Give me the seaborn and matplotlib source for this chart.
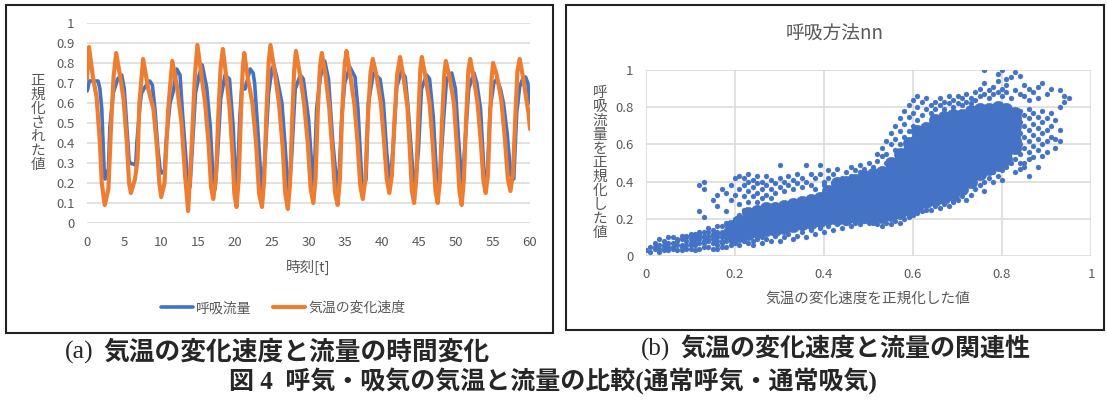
import matplotlib
matplotlib.use("Agg")
import matplotlib.pyplot as plt
from matplotlib.patches import Rectangle
import seaborn as sns

# ---- values ----
# (a) time series: breathing flow (blue) and rate of air-temperature change (orange)
flow_t = [0.0, 0.1, 0.3, 1.5, 1.75, 2.0, 2.2, 2.35, 2.45, 2.65, 2.9, 3.1, 3.55, 4.15, 4.7, 5.05,
          5.4, 5.7, 5.85, 6.6, 6.75, 7.2, 7.4, 7.85, 8.5, 8.85, 9.2, 9.6, 9.9, 10.1, 10.5, 10.7,
          11.25, 11.7, 12.15, 12.6, 12.9, 13.4, 13.7, 13.95, 14.3, 14.7, 15.2, 15.6, 16.2, 16.7,
          17.1, 17.35, 17.7, 18.1, 18.7, 19.3, 19.8, 20.1, 20.3, 20.7, 20.95, 21.4, 22.1, 22.5,
          22.7, 23.2, 23.7, 24.1, 24.6, 25.05, 25.3, 25.7, 26.4, 26.8, 27.3, 27.7, 28.2, 28.9,
          29.3, 30.0, 30.7, 31.1, 31.6, 32.2, 32.7, 33.3, 34.0, 34.5, 34.9, 35.6, 36.3, 36.7,
          37.2, 37.5, 37.8, 38.1, 38.8, 39.7, 40.15, 40.6, 41.05, 41.5, 41.95, 42.6, 43.1, 43.5,
          44.0, 44.4, 44.9, 45.3, 46.0, 46.4, 46.9, 47.35, 47.7, 48.3, 48.7, 49.4, 49.9, 50.3,
          50.8, 51.2, 51.7, 52.4, 52.8, 53.3, 53.8, 54.2, 54.6, 55.1, 55.5, 56.0, 56.4, 56.9,
          57.4, 57.8, 58.2, 58.6, 59.0, 59.4, 59.7, 60.0]
flow_v = [0.66, 0.67, 0.71, 0.71, 0.67, 0.57, 0.37, 0.23, 0.22, 0.25, 0.27, 0.48, 0.65, 0.72, 0.74, 0.67,
          0.48, 0.31, 0.30, 0.29, 0.40, 0.60, 0.65, 0.68, 0.71, 0.69, 0.57, 0.37, 0.27, 0.25, 0.26, 0.40,
          0.60, 0.66, 0.77, 0.74, 0.57, 0.32, 0.17, 0.18, 0.40, 0.65, 0.74, 0.79, 0.68, 0.48,
          0.20, 0.17, 0.35, 0.62, 0.74, 0.72, 0.48, 0.22, 0.15, 0.53, 0.67, 0.67, 0.77, 0.75,
          0.70, 0.43, 0.14, 0.32, 0.65, 0.77, 0.79, 0.73, 0.60, 0.40, 0.13, 0.32, 0.67, 0.74,
          0.72, 0.52, 0.15, 0.57, 0.73, 0.81, 0.72, 0.40, 0.13, 0.52, 0.70, 0.78, 0.73, 0.57,
          0.22, 0.18, 0.22, 0.60, 0.75, 0.72, 0.60, 0.35, 0.19, 0.40, 0.68, 0.76, 0.73, 0.57,
          0.32, 0.16, 0.37, 0.67, 0.74, 0.72, 0.53, 0.23, 0.17, 0.52, 0.72, 0.75, 0.67, 0.43,
          0.18, 0.40, 0.67, 0.75, 0.70, 0.57, 0.23, 0.22, 0.57, 0.70, 0.72, 0.67, 0.60, 0.45,
          0.24, 0.22, 0.55, 0.68, 0.72, 0.73, 0.70, 0.60]

temp_t = [0.0, 0.27, 0.8, 1.3, 1.75, 2.0, 2.4, 2.9, 3.25, 3.6, 3.95,
          4.5, 4.95, 5.4, 5.7, 5.95, 6.5, 6.85, 7.1, 7.6,
          8.3, 9.0, 9.5, 9.8, 10.05, 10.5, 11.0, 11.55,
          12.2, 12.8, 13.3, 13.7, 14.2, 14.6, 14.95,
          15.5, 16.0, 16.5, 16.8, 17.1, 17.45, 17.8, 18.1, 18.4,
          18.9, 19.3, 19.7, 19.95, 20.25, 20.55, 20.85, 21.1, 21.3,
          21.8, 22.4, 22.9, 23.3, 23.7, 24.0, 24.3, 24.6, 24.85,
          25.4, 26.0, 26.5, 26.85, 27.2, 27.5, 27.8, 28.05, 28.3,
          28.85, 29.4, 29.9, 30.3, 30.65, 30.95, 31.25, 31.55, 31.8,
          32.3, 32.8, 33.25, 33.6, 33.95, 34.25, 34.55, 34.9, 35.15,
          35.65, 36.2, 36.65, 37.0, 37.35, 37.7, 38.0, 38.4, 38.7,
          39.2, 39.8, 40.25, 40.6, 40.95, 41.3, 41.65, 42.0, 42.4,
          42.9, 43.4, 43.75, 44.0, 44.3, 44.6, 44.9, 45.15, 45.35,
          45.85, 46.4, 46.85, 47.2, 47.5, 47.8, 48.1, 48.4, 48.6,
          49.1, 49.7, 50.1, 50.45, 50.75, 51.05, 51.35, 51.65, 51.9,
          52.4, 52.9, 53.35, 53.7, 54.0, 54.3, 54.55, 54.8, 55.0,
          55.5, 56.1, 56.6, 57.0, 57.35, 57.7, 58.0, 58.3, 58.6,
          59.1, 59.5, 59.8, 60.0]
temp_v = [0.72, 0.88, 0.73, 0.63, 0.40, 0.20, 0.09, 0.17, 0.48, 0.73, 0.85,
          0.73, 0.62, 0.40, 0.20, 0.15, 0.22, 0.32, 0.60, 0.82,
          0.67, 0.57, 0.37, 0.20, 0.13, 0.20, 0.57, 0.81,
          0.68, 0.50, 0.23, 0.06, 0.40, 0.73, 0.89,
          0.74, 0.60, 0.38, 0.18, 0.12, 0.22, 0.55, 0.78, 0.87,
          0.72, 0.58, 0.35, 0.15, 0.08, 0.22, 0.55, 0.78, 0.85,
          0.72, 0.60, 0.40, 0.15, 0.08, 0.22, 0.55, 0.80, 0.89,
          0.76, 0.60, 0.38, 0.15, 0.07, 0.20, 0.52, 0.76, 0.86,
          0.74, 0.60, 0.40, 0.17, 0.10, 0.22, 0.55, 0.78, 0.85,
          0.74, 0.58, 0.35, 0.15, 0.09, 0.22, 0.55, 0.79, 0.86,
          0.74, 0.60, 0.40, 0.19, 0.12, 0.22, 0.50, 0.75, 0.82,
          0.74, 0.60, 0.40, 0.22, 0.15, 0.24, 0.52, 0.74, 0.83,
          0.72, 0.58, 0.35, 0.16, 0.10, 0.22, 0.55, 0.77, 0.83,
          0.73, 0.60, 0.38, 0.16, 0.10, 0.22, 0.52, 0.75, 0.81,
          0.73, 0.60, 0.38, 0.16, 0.09, 0.22, 0.52, 0.76, 0.82,
          0.72, 0.60, 0.40, 0.21, 0.15, 0.24, 0.50, 0.72, 0.80,
          0.74, 0.62, 0.42, 0.22, 0.16, 0.25, 0.52, 0.76, 0.82,
          0.72, 0.62, 0.55, 0.47]

# (b) scatter: dense core (read column by column) and the scattered points around it
core_cols = [0.19, 0.21, 0.23, 0.25, 0.27, 0.29, 0.31, 0.33, 0.35, 0.37, 0.39, 0.41, 0.43, 0.45,
             0.47, 0.49, 0.51, 0.53, 0.55, 0.57, 0.59, 0.61, 0.63, 0.65, 0.67, 0.69, 0.71, 0.73,
             0.75, 0.77, 0.79, 0.81, 0.83]
core_rows = [
    [0.12, 0.16],
    [0.11, 0.15, 0.19],
    [0.12, 0.16, 0.20, 0.23],
    [0.13, 0.17, 0.21, 0.24],
    [0.14, 0.18, 0.22, 0.26],
    [0.14, 0.18, 0.22, 0.26],
    [0.15, 0.19, 0.23, 0.27],
    [0.16, 0.20, 0.24, 0.28],
    [0.17, 0.21, 0.25, 0.29],
    [0.18, 0.22, 0.26, 0.30],
    [0.19, 0.23, 0.27, 0.31],
    [0.20, 0.24, 0.28, 0.32, 0.35],
    [0.20, 0.24, 0.28, 0.32, 0.36, 0.39],
    [0.20, 0.24, 0.28, 0.32, 0.36, 0.40],
    [0.21, 0.25, 0.29, 0.33, 0.37, 0.41],
    [0.21, 0.25, 0.29, 0.33, 0.37, 0.41, 0.43],
    [0.21, 0.25, 0.29, 0.33, 0.37, 0.41, 0.44],
    [0.21, 0.25, 0.29, 0.33, 0.37, 0.41, 0.45],
    [0.22, 0.26, 0.30, 0.34, 0.38, 0.42, 0.46, 0.50],
    [0.23, 0.27, 0.31, 0.35, 0.39, 0.43, 0.47, 0.51, 0.55],
    [0.25, 0.29, 0.33, 0.37, 0.41, 0.45, 0.49, 0.53, 0.57, 0.61],
    [0.27, 0.31, 0.35, 0.39, 0.43, 0.47, 0.51, 0.55, 0.59, 0.63, 0.67],
    [0.29, 0.33, 0.37, 0.41, 0.45, 0.49, 0.53, 0.57, 0.61, 0.65, 0.69],
    [0.30, 0.34, 0.38, 0.42, 0.46, 0.50, 0.54, 0.58, 0.62, 0.66, 0.70, 0.73],
    [0.31, 0.35, 0.39, 0.43, 0.47, 0.51, 0.55, 0.59, 0.63, 0.67, 0.71, 0.75],
    [0.33, 0.37, 0.41, 0.45, 0.49, 0.53, 0.57, 0.61, 0.65, 0.69, 0.73, 0.76],
    [0.36, 0.40, 0.44, 0.48, 0.52, 0.56, 0.60, 0.64, 0.68, 0.72, 0.76],
    [0.40, 0.44, 0.48, 0.52, 0.56, 0.60, 0.64, 0.68, 0.72, 0.76, 0.78],
    [0.44, 0.48, 0.52, 0.56, 0.60, 0.64, 0.68, 0.72, 0.76, 0.79],
    [0.47, 0.51, 0.55, 0.59, 0.63, 0.67, 0.71, 0.75, 0.79],
    [0.49, 0.53, 0.57, 0.61, 0.65, 0.69, 0.73, 0.77, 0.80],
    [0.52, 0.56, 0.60, 0.64, 0.68, 0.72, 0.76, 0.79],
    [0.58, 0.62, 0.66, 0.70, 0.74, 0.77],
]

spread_pts = [
    # lower-left tail
    (0.00, 0.03), (0.01, 0.05), (0.01, 0.02), (0.02, 0.04), (0.02, 0.07), (0.03, 0.02), (0.03, 0.06),
    (0.03, 0.09), (0.04, 0.03), (0.04, 0.08), (0.04, 0.05), (0.05, 0.05), (0.05, 0.10), (0.05, 0.03),
    (0.06, 0.04), (0.06, 0.07), (0.06, 0.10), (0.07, 0.09), (0.07, 0.03), (0.07, 0.06), (0.08, 0.06),
    (0.08, 0.11), (0.08, 0.03), (0.09, 0.04), (0.09, 0.08), (0.09, 0.11), (0.10, 0.12), (0.10, 0.06),
    (0.10, 0.09), (0.10, 0.04), (0.11, 0.03), (0.11, 0.09), (0.11, 0.12), (0.11, 0.06), (0.12, 0.13),
    (0.12, 0.07), (0.12, 0.10), (0.12, 0.04), (0.13, 0.05), (0.13, 0.10), (0.13, 0.08), (0.13, 0.13),
    (0.14, 0.15), (0.14, 0.08), (0.14, 0.05), (0.14, 0.11), (0.15, 0.04), (0.15, 0.12), (0.15, 0.07),
    (0.15, 0.14), (0.16, 0.06), (0.16, 0.10), (0.16, 0.16), (0.16, 0.04), (0.16, 0.13), (0.17, 0.08),
    (0.17, 0.13), (0.17, 0.05), (0.17, 0.10), (0.17, 0.16), (0.18, 0.05), (0.18, 0.11), (0.18, 0.18),
    (0.18, 0.08), (0.18, 0.14), (0.19, 0.09), (0.19, 0.14), (0.19, 0.06), (0.19, 0.11), (0.19, 0.17),
    (0.20, 0.07), (0.20, 0.20), (0.20, 0.10), (0.20, 0.15), (0.21, 0.06), (0.21, 0.09), (0.21, 0.13),
    (0.21, 0.22), (0.22, 0.08), (0.22, 0.25), (0.23, 0.07), (0.24, 0.08), (0.25, 0.09), (0.26, 0.10),
    (0.27, 0.09), (0.02, 0.05), (0.03, 0.04), (0.04, 0.06), (0.05, 0.07), (0.06, 0.05), (0.07, 0.08),
    (0.08, 0.05), (0.08, 0.09), (0.09, 0.06), (0.09, 0.10), (0.10, 0.07), (0.10, 0.11), (0.11, 0.08),
    (0.11, 0.10), (0.12, 0.09), (0.12, 0.12), (0.13, 0.07), (0.13, 0.11), (0.14, 0.09), (0.14, 0.13),
    (0.15, 0.09), (0.15, 0.11), (0.16, 0.08), (0.16, 0.12), (0.17, 0.07), (0.17, 0.12), (0.18, 0.10),
    (0.18, 0.13), (0.19, 0.08), (0.19, 0.13), (0.20, 0.09), (0.20, 0.12),
    # points above the middle band
    (0.12, 0.38), (0.13, 0.40), (0.13, 0.36), (0.12, 0.24), (0.13, 0.21), (0.15, 0.30), (0.16, 0.33),
    (0.16, 0.27), (0.17, 0.36), (0.18, 0.34), (0.18, 0.24), (0.19, 0.30), (0.19, 0.38), (0.20, 0.42),
    (0.20, 0.33), (0.21, 0.43), (0.21, 0.36), (0.21, 0.28), (0.22, 0.42), (0.22, 0.38), (0.22, 0.32),
    (0.23, 0.44), (0.23, 0.40), (0.23, 0.35), (0.23, 0.29), (0.24, 0.41), (0.24, 0.37), (0.24, 0.32),
    (0.25, 0.43), (0.25, 0.39), (0.25, 0.34), (0.25, 0.29), (0.26, 0.40), (0.26, 0.36), (0.26, 0.31),
    (0.27, 0.43), (0.27, 0.38), (0.27, 0.33), (0.28, 0.41), (0.28, 0.36), (0.28, 0.31), (0.29, 0.39),
    (0.29, 0.34), (0.30, 0.49), (0.30, 0.42), (0.30, 0.37), (0.31, 0.40), (0.31, 0.35), (0.32, 0.43),
    (0.32, 0.38), (0.33, 0.41), (0.33, 0.36), (0.34, 0.44), (0.34, 0.39), (0.35, 0.42), (0.35, 0.37),
    (0.36, 0.49), (0.36, 0.40), (0.37, 0.44), (0.37, 0.38), (0.38, 0.42), (0.38, 0.36), (0.39, 0.49),
    (0.39, 0.44), (0.40, 0.40), (0.40, 0.38), (0.41, 0.46), (0.41, 0.42), (0.42, 0.44), (0.42, 0.39),
    (0.43, 0.47), (0.44, 0.42), (0.45, 0.45), (0.46, 0.48), (0.46, 0.43), (0.47, 0.46), (0.48, 0.49),
    (0.48, 0.45), (0.49, 0.47), (0.50, 0.50), (0.51, 0.48), (0.52, 0.55), (0.52, 0.51), (0.53, 0.54),
    (0.54, 0.50),
    # points below the band
    (0.24, 0.06), (0.26, 0.07), (0.28, 0.08), (0.29, 0.11), (0.30, 0.08), (0.31, 0.10), (0.32, 0.12),
    (0.33, 0.09), (0.34, 0.11), (0.35, 0.13), (0.36, 0.10), (0.37, 0.14), (0.38, 0.12), (0.39, 0.15),
    (0.40, 0.13), (0.41, 0.16), (0.42, 0.14), (0.43, 0.17), (0.44, 0.15), (0.45, 0.18), (0.46, 0.16),
    (0.47, 0.18), (0.48, 0.17), (0.49, 0.19), (0.50, 0.18), (0.51, 0.18), (0.52, 0.17), (0.53, 0.16),
    (0.54, 0.18), (0.55, 0.17), (0.56, 0.19), (0.57, 0.18), (0.58, 0.20), (0.59, 0.21), (0.60, 0.22),
    (0.61, 0.23), (0.62, 0.24), (0.63, 0.25), (0.64, 0.25), (0.65, 0.27), (0.66, 0.26), (0.67, 0.28),
    (0.68, 0.27), (0.69, 0.29), (0.70, 0.30), (0.71, 0.32), (0.72, 0.30), (0.73, 0.33), (0.74, 0.36),
    (0.75, 0.38), (0.76, 0.40), (0.77, 0.42), (0.78, 0.45), (0.79, 0.43), (0.80, 0.46), (0.81, 0.48),
    (0.82, 0.50), (0.76, 0.35), (0.78, 0.40), (0.80, 0.41), (0.83, 0.45), (0.84, 0.50), (0.86, 0.52),
    (0.85, 0.48),
    # upper arm
    (0.53, 0.58), (0.54, 0.55), (0.54, 0.62), (0.55, 0.60), (0.55, 0.66), (0.56, 0.57), (0.56, 0.63),
    (0.56, 0.70), (0.57, 0.60), (0.57, 0.67), (0.57, 0.74), (0.58, 0.64), (0.58, 0.71), (0.58, 0.78),
    (0.59, 0.67), (0.59, 0.75), (0.59, 0.81), (0.60, 0.70), (0.60, 0.77), (0.60, 0.84), (0.61, 0.73),
    (0.61, 0.80), (0.61, 0.86), (0.62, 0.76), (0.62, 0.83), (0.63, 0.79), (0.63, 0.85), (0.64, 0.81),
    (0.64, 0.77), (0.65, 0.83), (0.65, 0.79), (0.66, 0.85), (0.66, 0.81), (0.67, 0.83), (0.67, 0.79),
    (0.68, 0.86), (0.68, 0.82), (0.69, 0.84), (0.69, 0.80), (0.70, 0.86), (0.70, 0.82), (0.71, 0.85),
    (0.71, 0.81), (0.72, 0.87), (0.72, 0.83), (0.73, 0.85), (0.73, 0.82), (0.74, 0.88), (0.74, 0.84),
    # sparse top
    (0.75, 0.86), (0.75, 0.90), (0.76, 0.93), (0.76, 0.87), (0.77, 0.85), (0.77, 0.89), (0.78, 0.91),
    (0.78, 0.87), (0.79, 0.94), (0.79, 0.88), (0.80, 1.00), (0.80, 0.90), (0.80, 0.86), (0.81, 0.92),
    (0.81, 0.88), (0.82, 0.96), (0.82, 0.85), (0.83, 0.99), (0.83, 0.89), (0.84, 0.97), (0.84, 0.87),
    (0.85, 0.92), (0.85, 0.86), (0.86, 0.90), (0.86, 0.84), (0.87, 0.88), (0.88, 0.91), (0.88, 0.85),
    (0.89, 0.93), (0.90, 0.87), (0.91, 0.90), (0.93, 0.89), (0.94, 0.86), (0.76, 1.00), (0.79, 0.98),
    (0.81, 0.95),
    # right-hand blob
    (0.84, 0.78), (0.84, 0.72), (0.84, 0.66), (0.84, 0.60), (0.84, 0.55), (0.85, 0.76), (0.85, 0.70),
    (0.85, 0.64), (0.85, 0.58), (0.86, 0.79), (0.86, 0.74), (0.86, 0.68), (0.86, 0.62), (0.86, 0.56),
    (0.87, 0.77), (0.87, 0.71), (0.87, 0.65), (0.87, 0.59), (0.88, 0.75), (0.88, 0.69), (0.88, 0.63),
    (0.88, 0.57), (0.89, 0.78), (0.89, 0.72), (0.89, 0.66), (0.89, 0.60), (0.89, 0.54), (0.90, 0.74),
    (0.90, 0.68), (0.90, 0.62), (0.90, 0.56), (0.91, 0.77), (0.91, 0.70), (0.91, 0.64), (0.92, 0.73),
    (0.93, 0.68), (0.93, 0.62), (0.92, 0.58), (0.83, 0.52), (0.87, 0.53), (0.85, 0.50), (0.84, 0.47),
    (0.94, 0.83), (0.93, 0.80), (0.95, 0.85), (0.92, 0.63), (0.86, 0.43), (0.88, 0.48),
]

x_ticks_a = [0, 5, 10, 15, 20, 25, 30, 35, 40, 45, 50, 55, 60]
y_ticks_a = [0, 0.1, 0.2, 0.3, 0.4, 0.5, 0.6, 0.7, 0.8, 0.9, 1.0]
y_labels_a = ['0', '0.1', '0.2', '0.3', '0.4', '0.5', '0.6', '0.7', '0.8', '0.9', '1']
ticks_b = [0, 0.2, 0.4, 0.6, 0.8, 1.0]
labels_b = ['0', '0.2', '0.4', '0.6', '0.8', '1']

# ---- style ----
sns.set_style("white")
plt.rcParams['font.family'] = ['Noto Sans CJK JP', 'DejaVu Sans']
CAP_FONT = ['Liberation Serif', 'Noto Sans CJK JP']

BLUE = '#4472C4'
ORANGE = '#ED7D31'
GRID = '#D9D9D9'
TXT = '#595959'
W, H = 1107, 401

fig = plt.figure(figsize=(W / 100, H / 100), dpi=100)


def fx(px):
    return px / W


def fy(py):
    return 1 - py / H


# ---- (a) time series ----
ax1 = fig.add_axes([fx(87), fy(223), (530 - 87) / W, (223 - 23) / H])
sns.lineplot(x=flow_t, y=flow_v, ax=ax1, color=BLUE, lw=2.6, label='呼吸流量',
             sort=False, estimator=None)
sns.lineplot(x=temp_t, y=temp_v, ax=ax1, color=ORANGE, lw=3.0, label='気温の変化速度',
             sort=False, estimator=None)
ax1.set_xlim(0, 60)
ax1.set_ylim(0, 1)
ax1.set_xticks(x_ticks_a)
ax1.set_yticks(y_ticks_a, y_labels_a)
ax1.grid(axis='y', color=GRID, lw=1.1)
ax1.grid(axis='x', visible=False)
ax1.set_axisbelow(True)
sns.despine(ax=ax1, left=True, bottom=True)
ax1.tick_params(length=0, labelsize=9.5, colors=TXT, pad=9)
ax1.set_xlabel('')
ax1.set_ylabel('')
ax1.legend(loc='center', bbox_to_anchor=(fx(283), fy(308)), bbox_transform=fig.transFigure,
           ncol=2, frameon=False, fontsize=10, handlelength=2.3, handletextpad=0.2,
           columnspacing=1.6, labelcolor=TXT)
fig.text(fx(308), fy(267), '時刻[t]', ha='center', va='center', fontsize=10.5, color=TXT)
fig.text(fx(38), fy(123), '\n'.join('正規化された値'), ha='center', va='center',
         fontsize=10.5, color=TXT, linespacing=1.0)

# ---- (b) scatter ----
core_x = [c for c, ys in zip(core_cols, core_rows) for _ in ys]
core_y = [y for ys in core_rows for y in ys]
sp_x = [p[0] for p in spread_pts]
sp_y = [p[1] for p in spread_pts]

ax2 = fig.add_axes([fx(646), fy(256), (1091 - 646) / W, (256 - 70) / H])
sns.scatterplot(x=core_x, y=core_y, ax=ax2, color=BLUE, s=80, linewidth=0.4, edgecolor=BLUE)
sns.scatterplot(x=sp_x, y=sp_y, ax=ax2, color=BLUE, s=13, linewidth=0.2, edgecolor=BLUE)
ax2.set_xlim(0, 1)
ax2.set_ylim(0, 1)
ax2.set_xticks(ticks_b, labels_b)
ax2.set_yticks(ticks_b, labels_b)
ax2.grid(True, color=GRID, lw=1.1)
ax2.set_axisbelow(True)
sns.despine(ax=ax2, left=True, bottom=True)
ax2.tick_params(length=0, labelsize=9.5, colors=TXT, pad=9)
ax2.set_xlabel('')
ax2.set_ylabel('')
fig.text(fx(835), fy(34), '呼吸方法nn', ha='center', va='center', fontsize=13.5, color=TXT)
fig.text(fx(868), fy(299), '気温の変化速度を正規化した値', ha='center', va='center',
         fontsize=10.5, color=TXT)
fig.text(fx(600), fy(163), '\n'.join('呼吸流量を正規化した値'), ha='center', va='center',
         fontsize=10.5, color=TXT, linespacing=1.0)

# ---- panel frames ----
fig.add_artist(Rectangle((fx(6), fy(333)), (553 - 6) / W, (333 - 5) / H,
                         transform=fig.transFigure, fill=False, ec='#222222', lw=1.5))
fig.add_artist(Rectangle((fx(566), fy(330)), (1104 - 566) / W, (330 - 5) / H,
                         transform=fig.transFigure, fill=False, ec='#222222', lw=1.5))

# ---- captions ----
fig.text(fx(94), fy(352), '(a)', ha='right', va='center', fontsize=18.5, family=CAP_FONT)
fig.text(fx(103), fy(352), '気温の変化速度と流量の時間変化', ha='left', va='center',
         fontsize=18.5, family=CAP_FONT, fontweight='bold')
fig.text(fx(670), fy(349), '(b)', ha='right', va='center', fontsize=18, family=CAP_FONT)
fig.text(fx(680), fy(349), '気温の変化速度と流量の関連性', ha='left', va='center',
         fontsize=18, family=CAP_FONT, fontweight='bold')
fig.text(fx(553), fy(381), '図 4  呼気・吸気の気温と流量の比較(通常呼気・通常吸気)', ha='center',
         va='center', fontsize=18, family=CAP_FONT, fontweight='bold')

fig.savefig('out.png', dpi=100)
